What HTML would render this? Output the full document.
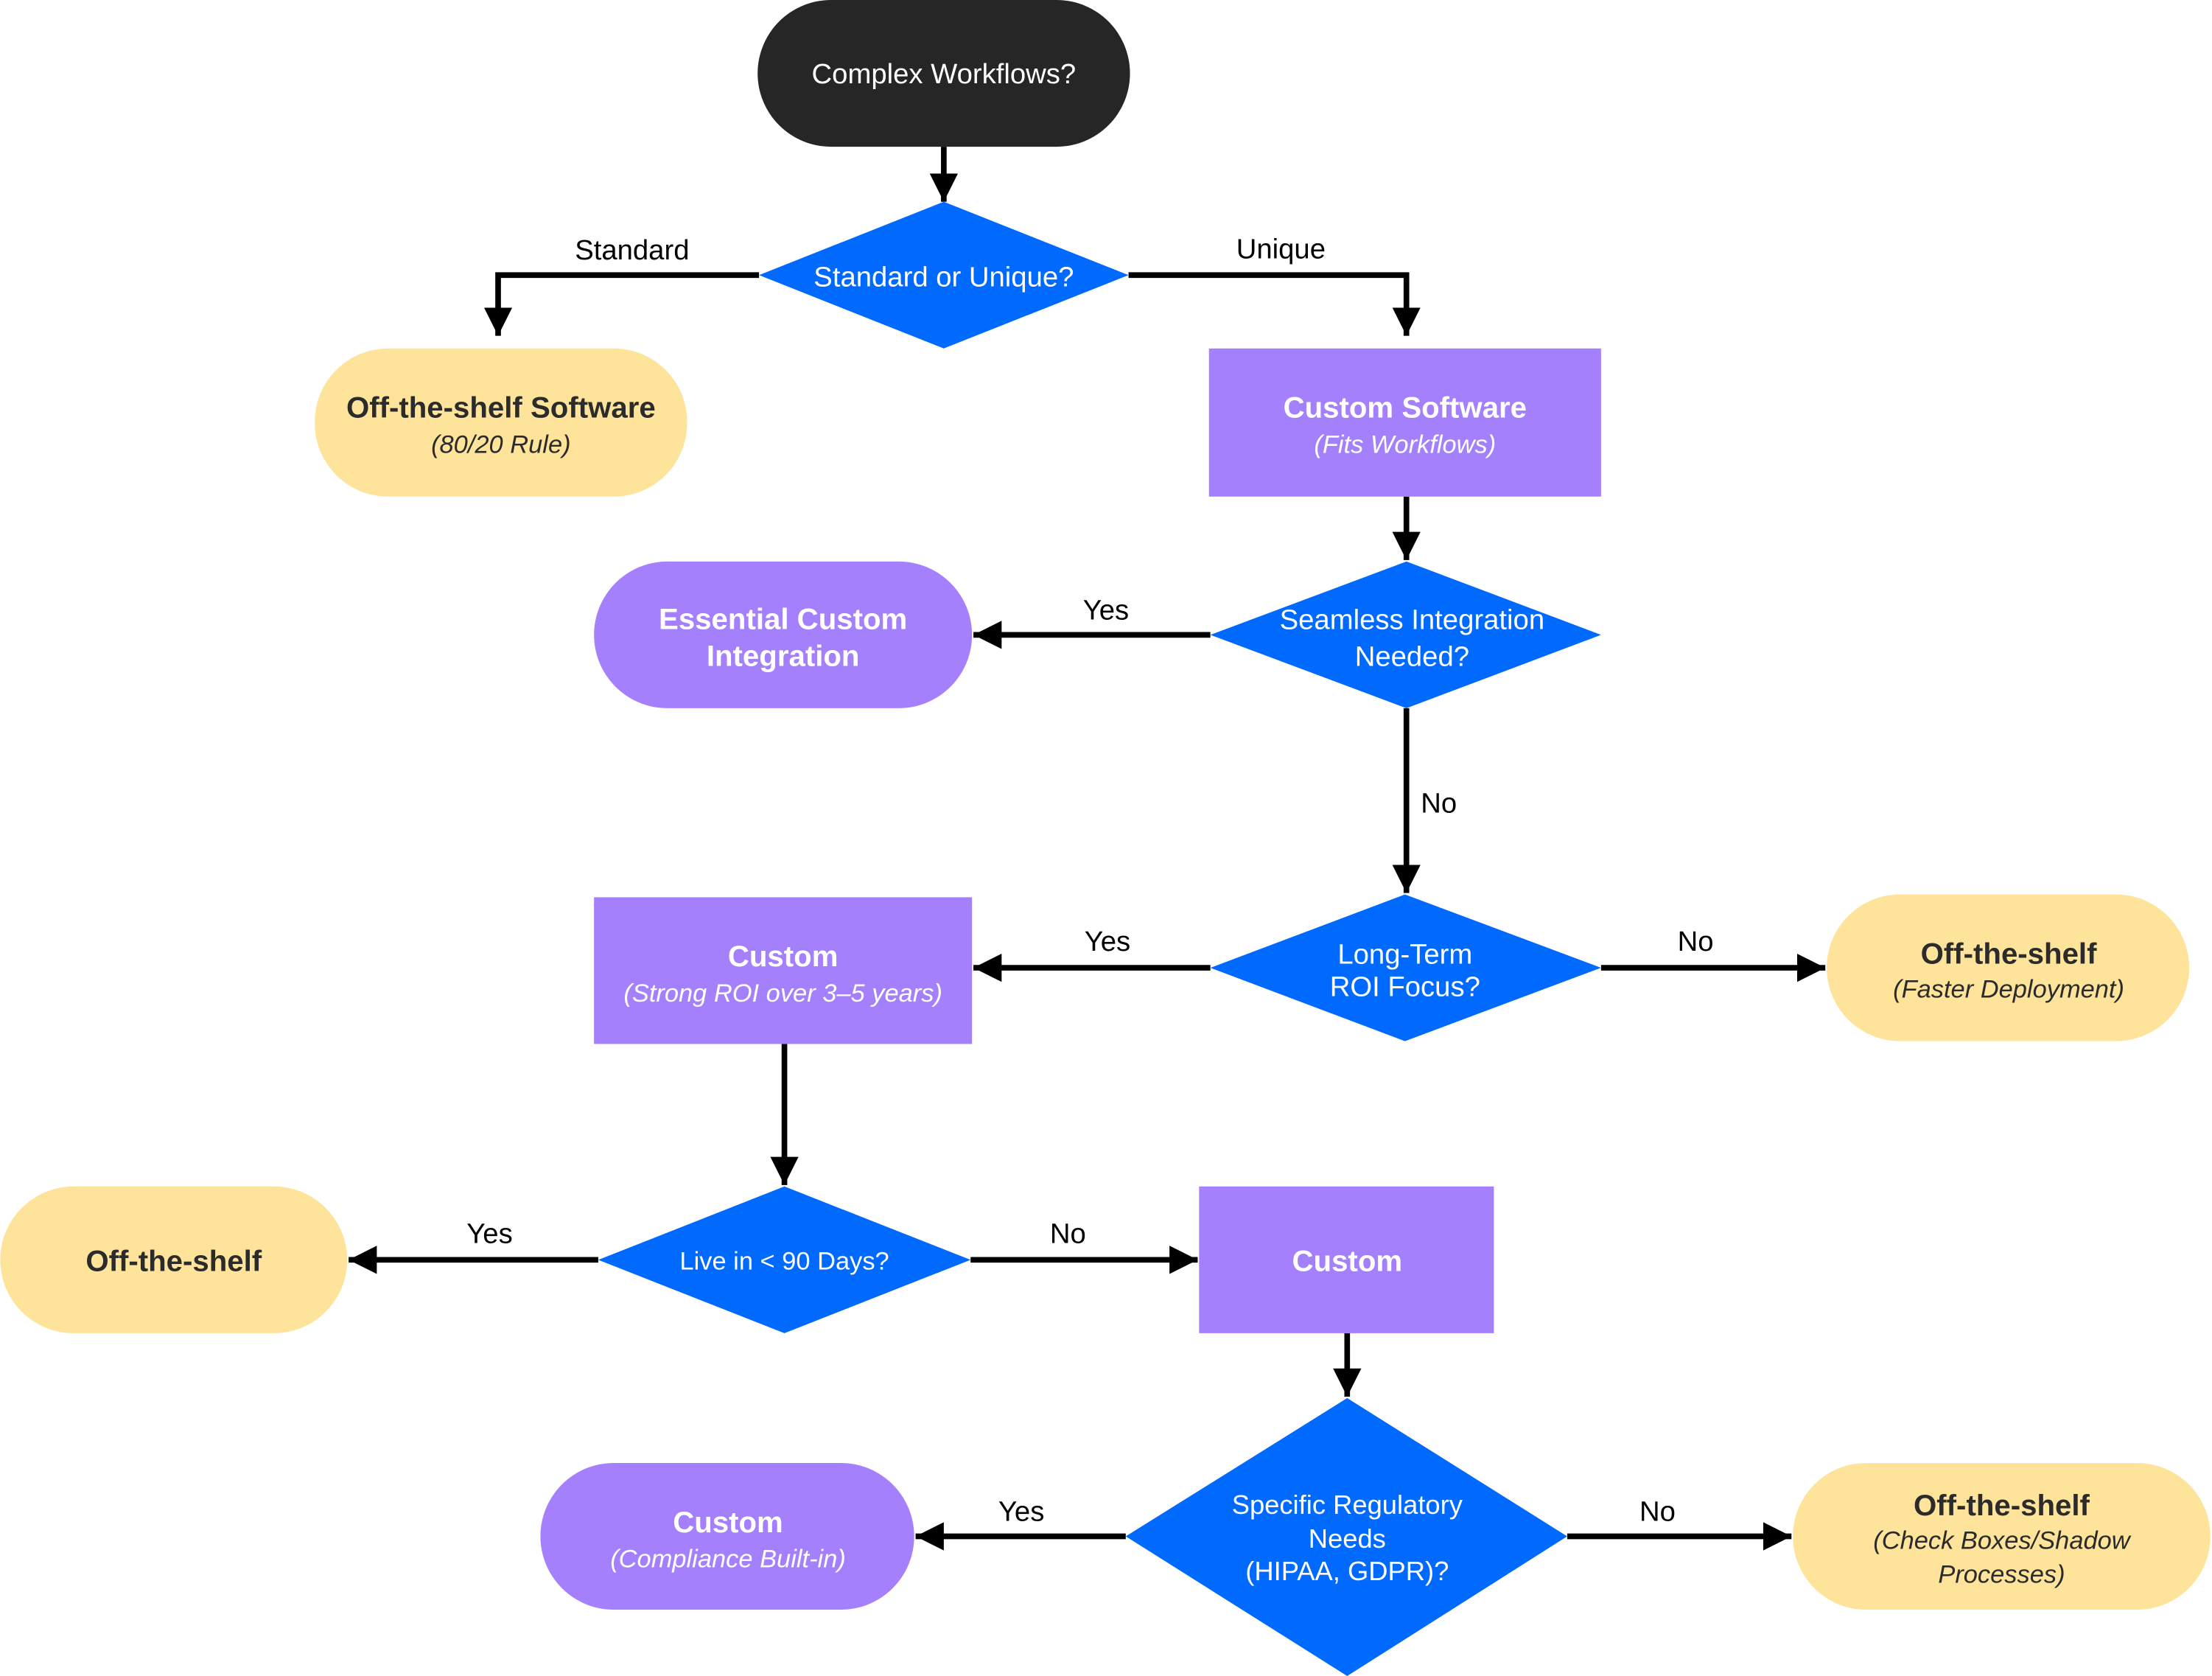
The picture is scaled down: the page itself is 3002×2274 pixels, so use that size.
<!DOCTYPE html>
<html><head><meta charset="utf-8"><style>
html,body{margin:0;padding:0;background:#fff;}
svg{display:block;}
text{font-family:"Liberation Sans",sans-serif;}
</style></head><body>
<svg width="3002" height="2274" viewBox="0 0 1568 1188" xmlns="http://www.w3.org/2000/svg">
<defs>
<marker id="a" viewBox="0 0 10 10" refX="10" refY="5" markerWidth="5" markerHeight="5" markerUnits="strokeWidth" orient="auto">
<path d="M0,0 L10,5 L0,10 z" fill="#000"/></marker>
</defs>
<rect width="1568" height="1188" fill="#fff"/>
<g stroke="#000" stroke-width="4" fill="none" marker-end="url(#a)">
<path d="M669,104 V143"/>
<path d="M538,195 H353 V238"/>
<path d="M800,195 H997 V238"/>
<path d="M997,352 V397"/>
<path d="M858,450 H690"/>
<path d="M997,502 V633"/>
<path d="M858,686 H690"/>
<path d="M1135,686 H1294"/>
<path d="M556,740 V840"/>
<path d="M424,893 H247"/>
<path d="M688,893 H849"/>
<path d="M955,945 V990"/>
<path d="M798,1089 H649"/>
<path d="M1111,1089 H1270"/>
</g>
<!-- nodes -->
<rect x="537" y="0" width="264" height="104" rx="52" fill="#262626"/>
<polygon points="669,143 800,195 669,247 538,195" fill="#006AFF"/>
<rect x="223" y="247" width="264" height="105" rx="52" fill="#FEE39A"/>
<rect x="857" y="247" width="278" height="105" fill="#A480FC"/>
<polygon points="997,398 1135,450 997,502 858,450" fill="#006AFF"/>
<rect x="421" y="398" width="268" height="104" rx="52" fill="#A480FC"/>
<polygon points="996,634 1135,686 996,738 858,686" fill="#006AFF"/>
<rect x="421" y="636" width="268" height="104" fill="#A480FC"/>
<rect x="1295" y="634" width="257" height="104" rx="52" fill="#FEE39A"/>
<polygon points="556,841 688,893 556,945 424,893" fill="#006AFF"/>
<rect x="0" y="841" width="246" height="104" rx="52" fill="#FEE39A"/>
<rect x="850" y="841" width="209" height="104" fill="#A480FC"/>
<polygon points="955,991 1111,1089 955,1188 798,1089" fill="#006AFF"/>
<rect x="383" y="1037" width="265" height="104" rx="52" fill="#A480FC"/>
<rect x="1271" y="1037" width="296" height="104" rx="52" fill="#FEE39A"/>
<!-- text -->
<g font-size="20" text-anchor="middle" fill="#fff">
<text x="669" y="59">Complex Workflows?</text>
<text x="669" y="203">Standard or Unique?</text>
<text x="1001" y="446">Seamless Integration</text>
<text x="1001" y="472">Needed?</text>
<text x="996" y="683">Long-Term</text>
<text x="996" y="706">ROI Focus?</text>
<text x="556" y="900" font-size="18">Live in &lt; 90 Days?</text>
<text x="955" y="1073" font-size="19">Specific Regulatory</text>
<text x="955" y="1097" font-size="19">Needs</text>
<text x="955" y="1120" font-size="19">(HIPAA, GDPR)?</text>
</g>
<g font-size="20" text-anchor="middle" fill="#000">
<text x="448" y="184">Standard</text>
<text x="908" y="183">Unique</text>
<text x="784" y="439">Yes</text>
<text x="1020" y="576">No</text>
<text x="785" y="674">Yes</text>
<text x="1202" y="674">No</text>
<text x="347" y="881">Yes</text>
<text x="757" y="881">No</text>
<text x="724" y="1078">Yes</text>
<text x="1175" y="1078">No</text>
</g>
<g text-anchor="middle" fill="#2B2B2B">
<text x="355" y="296" font-size="21" font-weight="bold">Off-the-shelf Software</text>
<text x="355" y="321" font-size="18" font-style="italic">(80/20 Rule)</text>
<text x="1424" y="683" font-size="21" font-weight="bold">Off-the-shelf</text>
<text x="1424" y="707" font-size="18" font-style="italic">(Faster Deployment)</text>
<text x="123" y="901" font-size="21" font-weight="bold">Off-the-shelf</text>
<text x="1419" y="1074" font-size="21" font-weight="bold">Off-the-shelf</text>
<text x="1419" y="1098" font-size="18" font-style="italic">(Check Boxes/Shadow</text>
<text x="1419" y="1122" font-size="18" font-style="italic">Processes)</text>
</g>
<g text-anchor="middle" fill="#fff">
<text x="996" y="296" font-size="21" font-weight="bold">Custom Software</text>
<text x="996" y="321" font-size="18" font-style="italic">(Fits Workflows)</text>
<text x="555" y="446" font-size="21" font-weight="bold">Essential Custom</text>
<text x="555" y="472" font-size="21" font-weight="bold">Integration</text>
<text x="555" y="685" font-size="21" font-weight="bold">Custom</text>
<text x="555" y="710" font-size="18" font-style="italic">(Strong ROI over 3–5 years)</text>
<text x="955" y="901" font-size="21" font-weight="bold">Custom</text>
<text x="516" y="1086" font-size="21" font-weight="bold">Custom</text>
<text x="516" y="1111" font-size="18" font-style="italic">(Compliance Built-in)</text>
</g>
</svg>
</body></html>
